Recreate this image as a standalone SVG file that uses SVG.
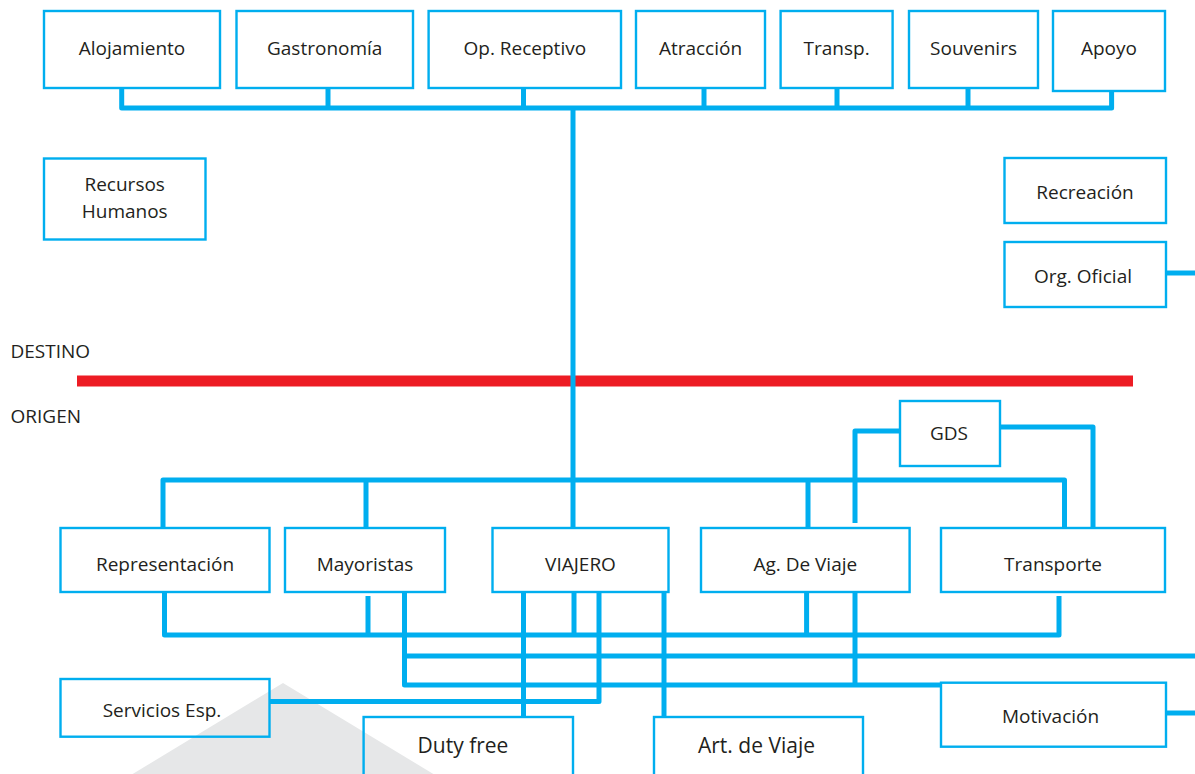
<svg xmlns="http://www.w3.org/2000/svg" width="1195" height="774" viewBox="0 0 1195 774">
<style>
.box{fill:none;stroke:#00aeef;stroke-width:2.4}
.t{font-family:"Open Sans","Liberation Sans",sans-serif;font-size:19px;fill:#231f20;text-anchor:middle}
.tl{font-family:"Open Sans","Liberation Sans",sans-serif;font-size:19px;fill:#231f20}
.big{font-size:21px}
.c{fill:none;stroke:#00aeef;stroke-width:5;stroke-linejoin:round}
</style>
<rect width="1195" height="774" fill="#ffffff"/>
<polygon points="283,683 131,775 435,775" fill="#e6e7e8"/>
<line x1="77" y1="381" x2="1133" y2="381" stroke="#ed1c24" stroke-width="11"/>
<text class="tl" x="10.5" y="358">DESTINO</text>
<text class="tl" x="10.5" y="423">ORIGEN</text>
<g id="connectors">
<path class="c" d="M121.7 88 V108 H1111.6 V91"/>
<path class="c" d="M328 88 V108 M523.5 88 V108 M704 88 V108 M837 88 V108 M968 88 V108"/>
<path class="c" d="M573 108 V528"/>
<path class="c" d="M1166 273 H1195"/>
<path class="c" d="M900 431 H855 V523"/>
<path class="c" d="M1000 427 H1093 V527" stroke-width="6"/>
<path class="c" d="M163 527 V480 H1064.5 V527"/>
<path class="c" d="M366 480 V527 M808 480 V527"/>
<path class="c" d="M164.5 593 V635 H1059 V596"/>
<path class="c" d="M368 596 V635 M574 593 V635 M806.6 593 V635"/>
<path class="c" d="M404.5 593 V685 H941"/>
<path class="c" d="M404.5 656 H1195"/>
<path class="c" d="M855 593 V685"/>
<path class="c" d="M523.5 593 V717"/>
<path class="c" d="M270 701.5 H599 V593"/>
<path class="c" d="M664 593 V717"/>
<path class="c" d="M1166 713 H1195"/>
</g>
<g id="alojamiento"><rect class="box" x="44" y="11" width="176" height="77"/><text class="t" x="132" y="55">Alojamiento</text></g>
<g id="gastronomia"><rect class="box" x="236.5" y="11" width="176.5" height="77"/><text class="t" x="324.7" y="55">Gastronomía</text></g>
<g id="op-receptivo"><rect class="box" x="428.6" y="11" width="192.4" height="77"/><text class="t" x="524.8" y="55">Op. Receptivo</text></g>
<g id="atraccion"><rect class="box" x="636" y="11" width="129" height="77"/><text class="t" x="700.5" y="55">Atracción</text></g>
<g id="transp"><rect class="box" x="780.6" y="11" width="112" height="77"/><text class="t" x="836.6" y="55">Transp.</text></g>
<g id="souvenirs"><rect class="box" x="909" y="11" width="129" height="77"/><text class="t" x="973.5" y="55">Souvenirs</text></g>
<g id="apoyo"><rect class="box" x="1053" y="11" width="112" height="80"/><text class="t" x="1109" y="55">Apoyo</text></g>
<g id="recursos-humanos"><rect class="box" x="44" y="158.5" width="161.5" height="81"/><text class="t" x="124.7" y="191">Recursos</text><text class="t" x="124.7" y="218">Humanos</text></g>
<g id="recreacion"><rect class="box" x="1004.5" y="158" width="161.5" height="65"/><text class="t" x="1085" y="199">Recreación</text></g>
<g id="org-oficial"><rect class="box" x="1004.5" y="242" width="161.5" height="65"/><text class="t" x="1083" y="283">Org. Oficial</text></g>
<g id="gds"><rect class="box" x="900" y="401" width="100" height="65"/><text class="t" x="949" y="440">GDS</text></g>
<g id="representacion"><rect class="box" x="60.5" y="528" width="209" height="64"/><text class="t" x="165" y="571">Representación</text></g>
<g id="mayoristas"><rect class="box" x="285" y="528" width="160" height="64"/><text class="t" x="365" y="571">Mayoristas</text></g>
<g id="viajero"><rect class="box" x="492.5" y="528" width="176" height="64"/><text class="t" x="580.5" y="571">VIAJERO</text></g>
<g id="ag-de-viaje"><rect class="box" x="701" y="528" width="208.6" height="64"/><text class="t" x="805.3" y="571">Ag. De Viaje</text></g>
<g id="transporte"><rect class="box" x="941" y="528" width="224" height="64"/><text class="t" x="1053" y="571">Transporte</text></g>
<g id="servicios-esp"><rect class="box" x="60.5" y="679" width="209" height="57.7"/><text class="t" x="162" y="717">Servicios Esp.</text></g>
<g id="duty-free"><rect class="box" x="363.6" y="717" width="209.4" height="62"/><text class="t big" x="463" y="753">Duty free</text></g>
<g id="art-de-viaje"><rect class="box" x="654" y="717" width="209" height="62"/><text class="t big" x="756.5" y="753">Art. de Viaje</text></g>
<g id="motivacion"><rect class="box" x="941" y="682.7" width="225" height="64"/><text class="t" x="1050.6" y="722.5">Motivación</text></g>
</svg>
